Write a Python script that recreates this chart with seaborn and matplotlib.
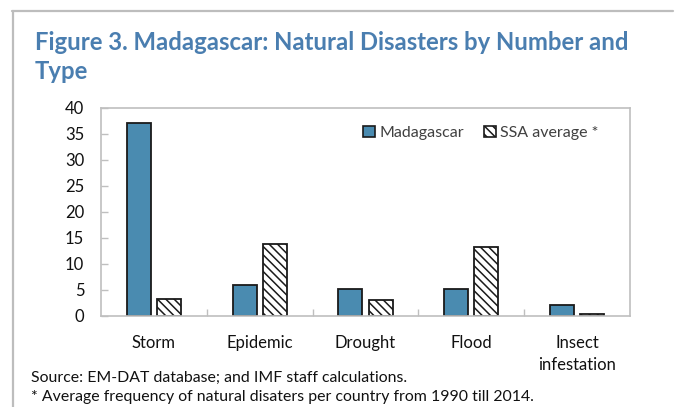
import matplotlib
matplotlib.use("Agg")
import matplotlib.pyplot as plt
from matplotlib.patches import Patch
from matplotlib.lines import Line2D
import seaborn as sns
import pandas as pd

# Natural disasters by type, 1990-2014
categories = ["Storm", "Epidemic", "Drought", "Flood", "Insect\ninfestation"]
madagascar = [37, 6.0, 5.2, 5.2, 2.2]
ssa_average = [3.3, 13.8, 3.0, 13.3, 0.4]
series_names = ["Madagascar", "SSA average *"]
y_ticks = [0, 5, 10, 15, 20, 25, 30, 35, 40]

df = pd.DataFrame({
    "type": categories * 2,
    "series": [series_names[0]] * len(categories) + [series_names[1]] * len(categories),
    "value": madagascar + ssa_average,
})

sns.set_theme(style="white")
plt.rcParams["font.family"] = ["Lato", "DejaVu Sans"]
plt.rcParams["hatch.linewidth"] = 1.1

bar_blue = "#4A8BB0"
title_blue = "#4A7EB0"
grey = "#BFBFBF"
ink = "#111111"

fig = plt.figure(figsize=(6.83, 4.07), dpi=100)
ax = fig.add_axes([101 / 683, 1 - 316 / 407, (630 - 101) / 683, (316 - 107.5) / 407])

sns.barplot(data=df, x="type", y="value", hue="series", order=categories,
            hue_order=series_names, palette=[bar_blue, "white"],
            width=0.57, gap=0.2, edgecolor="#1a1a1a", linewidth=1.3,
            saturation=1, legend=False, ax=ax)

for bar in ax.containers[1]:
    bar.set_hatch("\\\\\\\\")
    bar.set_facecolor("white")

ax.set_ylim(0, 40)
ax.set_yticks(y_ticks)
ax.set_xlim(-0.5, len(categories) - 0.5)
ax.set_xlabel("")
ax.set_ylabel("")

for s in ax.spines.values():
    s.set_color(grey)
    s.set_linewidth(1.2)

ax.tick_params(axis="y", direction="in", length=5, color=grey, width=1,
               labelsize=12, labelcolor=ink, pad=12, left=True)
ax.tick_params(axis="x", which="major", length=0, labelsize=12,
               labelcolor=ink, pad=14)
for lbl in ax.get_xticklabels():
    lbl.set_linespacing(1.45)
ax.set_xticks([0.5, 1.5, 2.5, 3.5], minor=True)
ax.tick_params(axis="x", which="minor", direction="in", length=5,
               color=grey, width=1, bottom=True)

handles = [Patch(facecolor=bar_blue, edgecolor="#1a1a1a", linewidth=1.2),
           Patch(facecolor="white", edgecolor="#1a1a1a", hatch="\\\\\\\\", linewidth=1.2)]
leg = ax.legend(handles, series_names, loc="center left",
                bbox_to_anchor=(355 / 683, 1 - 133 / 407),
                bbox_transform=fig.transFigure, ncol=2, frameon=False,
                handlelength=0.75, handleheight=0.75, handletextpad=0.3,
                columnspacing=1.2, borderpad=0, fontsize=11.5)
for t in leg.get_texts():
    t.set_color("#404040")

# Panel frame lines
fig.add_artist(Line2D([12 / 683, 673 / 683], [1 - 10.5 / 407] * 2,
                      transform=fig.transFigure, color="#BDBDBD", lw=1.6))
fig.add_artist(Line2D([12.5 / 683] * 2, [1 - 10.5 / 407, 0],
                      transform=fig.transFigure, color="#BDBDBD", lw=1.6))

fig.text(35 / 683, 1 - 50 / 407, "Figure 3. Madagascar: Natural Disasters by Number and",
         fontsize=17.2, fontweight="bold", color=title_blue, va="baseline")
fig.text(35 / 683, 1 - 79 / 407, "Type",
         fontsize=17.2, fontweight="bold", color=title_blue, va="baseline")

fig.text(31 / 683, 1 - 382 / 407, "Source: EM-DAT database; and IMF staff calculations.",
         fontsize=11.4, color=ink, va="baseline")
fig.text(31 / 683, 1 - 401 / 407,
         "* Average frequency of natural disaters per country from 1990 till 2014.",
         fontsize=11.4, color=ink, va="baseline")

fig.savefig("out.png", dpi=100)
